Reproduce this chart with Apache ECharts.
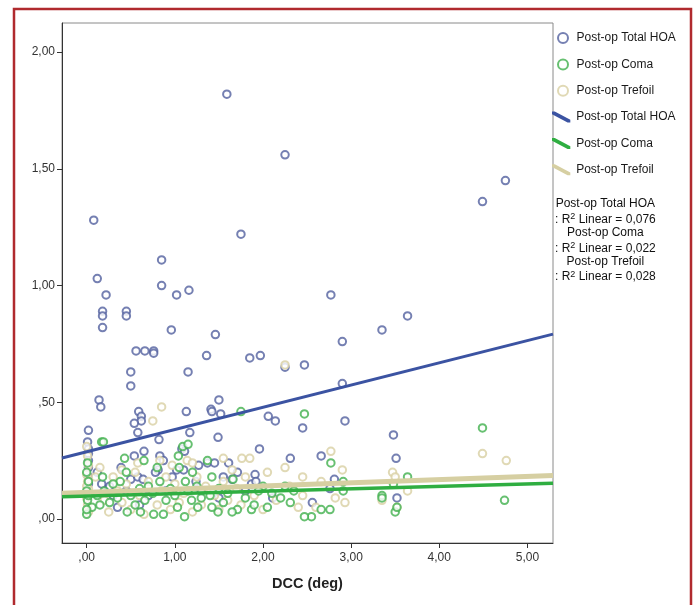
<!DOCTYPE html>
<html>
<head>
<meta charset="utf-8">
<script src="https://cdn.jsdelivr.net/npm/echarts@6/dist/echarts.min.js"></script>
<style>
html,body{margin:0;padding:0;background:#fff;}
#chart{width:698px;height:605px;}
</style>
</head>
<body>
<div id="chart"></div>
<script>
// ---- data ----
const xTickValues = [0, 1, 2, 3, 4, 5];
const xTickLabels = [',00', '1,00', '2,00', '3,00', '4,00', '5,00'];
const yTickValues = [0, 0.5, 1, 1.5, 2];
const yTickLabels = [',00', ',50', '1,00', '1,50', '2,00'];
const seriesNames = ['Post-op Total HOA', 'Post-op Coma', 'Post-op Trefoil'];
const r2Values = ['0,076', '0,022', '0,028'];

const hoaPoints = [
  [1.59,1.82],[2.25,1.56],[1.75,1.22],[4.49,1.36],[4.75,1.45],[0.08,1.28],[0.12,1.03],
  [0.85,1.11],[0.85,1.00],[0.22,0.96],[1.02,0.96],[1.16,0.98],[0.18,0.89],[0.18,0.87],
  [0.45,0.89],[0.45,0.87],[0.18,0.82],[0.96,0.81],[1.46,0.79],[0.56,0.72],[0.66,0.72],
  [0.76,0.72],[0.76,0.71],[1.36,0.70],[1.85,0.69],[1.97,0.70],[2.25,0.65],[2.47,0.66],
  [0.50,0.63],[1.15,0.63],[0.50,0.57],[2.77,0.96],[2.90,0.76],[3.35,0.81],[3.64,0.87],
  [2.90,0.58],[0.14,0.51],[0.16,0.48],[0.59,0.46],[0.62,0.44],[0.62,0.42],[0.54,0.41],
  [0.58,0.37],[1.13,0.46],[1.41,0.47],[1.42,0.46],[1.50,0.51],[1.52,0.45],[2.06,0.44],
  [2.14,0.42],[2.45,0.39],[0.02,0.38],[0.01,0.33],[1.17,0.37],[0.82,0.34],[1.49,0.35],
  [1.96,0.30],[2.31,0.26],[0.54,0.27],[0.65,0.29],[0.83,0.27],[0.87,0.25],[1.08,0.30],
  [1.11,0.29],[1.37,0.24],[1.61,0.24],[0.39,0.22],[0.81,0.21],[0.78,0.20],[1.10,0.21],
  [1.02,0.21],[1.27,0.23],[1.45,0.24],[1.55,0.18],[1.65,0.17],[1.87,0.15],[1.91,0.19],
  [0.50,0.17],[0.58,0.18],[0.64,0.17],[0.25,0.13],[0.97,0.18],[2.11,0.09],[0.02,0.28],
  [0.02,0.25],[0.02,0.22],[1.24,0.16],[2.93,0.42],[3.48,0.36],[2.66,0.27],[3.51,0.26],
  [2.81,0.17],[2.76,0.13],[2.56,0.07],[3.52,0.09],[1.71,0.20],[1.92,0.16],[0.12,0.20],
  [0.17,0.15],[0.26,0.14],[0.02,0.30],[0.02,0.18],[0.02,0.15],[0.30,0.10],[0.45,0.12],
  [0.70,0.10],[0.90,0.12],[1.30,0.12],[1.50,0.09],[0.35,0.05],[0.60,0.06],[1.80,0.12]
];

const comaPoints = [
  [1.75,0.46],[2.47,0.45],[0.17,0.33],[0.19,0.33],[1.09,0.31],[1.15,0.32],[4.49,0.39],
  [2.77,0.24],[3.64,0.18],[4.74,0.08],[3.35,0.10],[3.35,0.09],[3.50,0.03],[3.52,0.05],
  [2.55,0.01],[2.66,0.04],[2.76,0.04],[3.48,0.15],[2.91,0.12],[2.91,0.16],[0.43,0.26],
  [1.04,0.27],[1.37,0.25],[0.38,0.16],[0.18,0.18],[0.83,0.16],[1.12,0.16],[1.42,0.18],
  [1.66,0.17],[2.00,0.14],[2.31,0.07],[2.05,0.05],[1.87,0.04],[1.71,0.04],[1.65,0.03],
  [1.49,0.03],[1.42,0.05],[1.26,0.05],[1.11,0.01],[0.87,0.02],[0.76,0.02],[0.61,0.03],
  [0.46,0.03],[0.26,0.07],[0.00,0.02],[0.06,0.05],[1.03,0.05],[1.19,0.08],[1.40,0.10],
  [2.47,0.01],[0.00,0.04],[0.01,0.08],[0.00,0.12],[0.02,0.16],[0.00,0.20],[0.01,0.24],
  [0.02,0.10],[0.12,0.10],[0.15,0.06],[0.20,0.12],[0.30,0.15],[0.35,0.09],[0.50,0.10],
  [0.55,0.06],[0.60,0.13],[0.66,0.08],[0.70,0.14],[0.75,0.11],[0.90,0.08],[0.95,0.13],
  [1.00,0.10],[1.15,0.12],[1.25,0.14],[1.30,0.09],[1.50,0.13],[1.55,0.07],[1.60,0.11],
  [1.80,0.09],[1.90,0.06],[1.95,0.12],[2.10,0.11],[2.20,0.09],[2.35,0.12],[0.45,0.20],
  [0.80,0.22],[1.20,0.20],[0.65,0.25],[2.25,0.14],[1.05,0.22]
];

const trefoilPoints = [
  [0.85,0.48],[0.75,0.42],[2.25,0.66],[4.49,0.28],[4.76,0.25],[2.77,0.29],[2.90,0.21],
  [3.47,0.20],[3.50,0.18],[3.64,0.12],[2.45,0.18],[2.66,0.16],[2.82,0.09],[2.93,0.07],
  [2.45,0.10],[3.35,0.08],[3.52,0.05],[1.76,0.26],[1.85,0.26],[2.25,0.22],[1.14,0.25],
  [0.58,0.24],[0.83,0.25],[0.97,0.23],[0.00,0.31],[0.01,0.27],[0.02,0.23],[0.00,0.19],
  [0.01,0.16],[0.02,0.13],[0.00,0.09],[0.01,0.06],[0.02,0.03],[0.00,0.14],[0.10,0.18],
  [0.15,0.22],[0.20,0.08],[0.25,0.03],[0.30,0.18],[0.35,0.12],[0.40,0.07],[0.45,0.15],
  [0.50,0.04],[0.55,0.20],[0.60,0.10],[0.65,0.02],[0.70,0.16],[0.80,0.06],[0.85,0.12],
  [0.90,0.18],[0.95,0.04],[1.00,0.15],[1.05,0.07],[1.10,0.11],[1.20,0.03],[1.25,0.18],
  [1.30,0.06],[1.35,0.14],[1.45,0.10],[1.50,0.04],[1.55,0.16],[1.60,0.08],[1.70,0.13],
  [1.75,0.06],[1.80,0.18],[1.90,0.10],[2.00,0.04],[2.05,0.20],[2.15,0.08],[2.30,0.14],
  [2.40,0.05],[1.20,0.24],[0.40,0.21],[1.65,0.21],[2.60,0.05],[1.55,0.26]
];

// fitted lines: end points read at the plot edges
const hoaFit = [[-0.28,0.261],[5.29,0.792]];
const comaFit = [[-0.28,0.095],[5.29,0.153]];
const trefoilFit = [[-0.28,0.110],[5.29,0.186]];

// ---- chart ----
const FONT = '"Liberation Sans", Arial, sans-serif';
const colHOA = '#52609f', colComa = '#41b04e', colTref = '#d8d0a2';
const lineHOA = '#3b53a2', lineComa = '#2fae41', lineTref = '#d6cfa2';

const chart = echarts.init(document.getElementById('chart'), null, {renderer: 'canvas'});

function scatter(name, pts, color, z) {
  return {
    type: 'scatter', name: name, data: pts, symbol: 'emptyCircle', symbolSize: 7.5,
    itemStyle: {color: color, borderColor: color, borderWidth: 1.1}, z: z,
    emphasis: {disabled: true}, silent: true
  };
}
function fit(name, pts, color, width, z) {
  return {
    type: 'line', name: name, data: pts, showSymbol: false, symbol: 'none',
    lineStyle: {color: color, width: width}, itemStyle: {color: color}, z: z,
    emphasis: {disabled: true}, silent: true
  };
}

const lineIcon = 'path://M0,0 L3,0 L20,9 L20,12 L17,12 L0,3 Z';

const r2Lines = [];
seriesNames.forEach((n, i) => {
  r2Lines.push({text: n});
  r2Lines.push({text: ': R{sup|2} Linear = ' + r2Values[i]});
});

const legendText = {fontFamily: FONT, fontSize: 12, color: '#1a1a1a'};

const option = {
  backgroundColor: '#ffffff',
  animation: false,
  grid: {left: 62, top: 23, width: 491, height: 520, show: true, borderColor: '#8a8a8a', borderWidth: 1, containLabel: false},
  xAxis: {
    type: 'value', min: -0.28, max: 5.29,
    name: 'DCC (deg)', nameLocation: 'middle', nameGap: 33,
    nameTextStyle: {fontFamily: FONT, fontSize: 14.5, fontWeight: 'bold', color: '#222'},
    axisLine: {show: true, onZero: false, lineStyle: {color: '#333', width: 1}},
    axisTick: {show: true, length: 5, customValues: xTickValues, lineStyle: {color: '#333'}},
    axisLabel: {customValues: xTickValues, margin: 9, fontFamily: FONT, fontSize: 12, color: '#333',
      formatter: v => xTickLabels[xTickValues.indexOf(Math.round(v * 100) / 100)] || ''},
    splitLine: {show: false}
  },
  yAxis: {
    type: 'value', min: -0.103, max: 2.125,
    axisLine: {show: true, onZero: false, lineStyle: {color: '#333', width: 1}},
    axisTick: {show: true, length: 5, customValues: yTickValues, lineStyle: {color: '#333'}},
    axisLabel: {customValues: yTickValues, margin: 7, fontFamily: FONT, fontSize: 12, color: '#333',
      formatter: v => yTickLabels[yTickValues.indexOf(Math.round(v * 100) / 100)] || ''},
    splitLine: {show: false}
  },
  legend: [
    {
      orient: 'vertical', left: 557, top: 32, padding: 0,
      itemWidth: 17, itemHeight: 10, itemGap: 14.4,
      textStyle: legendText, selectedMode: false,
      data: seriesNames.map(n => ({name: n, icon: 'emptyCircle'}))
    },
    {
      orient: 'vertical', left: 552, top: 111, padding: 0,
      itemWidth: 20, itemHeight: 11, itemGap: 14.4,
      textStyle: legendText, selectedMode: false,
      data: seriesNames.map(n => ({name: n + ' ', icon: lineIcon}))
    }
  ],
  graphic: [
    {type: 'rect', shape: {x: 14, y: 9, width: 677, height: 620}, silent: true,
     style: {fill: 'none', stroke: '#b02a2e', lineWidth: 2.5}, z: 100},
    {type: 'group', left: 555, top: 198, silent: true, children: r2Lines.map((l, i) => ({
      type: 'text', x: 50, y: i * 14.4,
      style: {text: l.text, fontFamily: FONT, fontSize: 12, fill: '#111', align: 'center',
        rich: {sup: {fontSize: 9, fontFamily: FONT, fill: '#111', padding: [0, 0, 5, 0]}}}
    }))}
  ],
  series: [
    scatter(seriesNames[0], hoaPoints, colHOA, 2),
    scatter(seriesNames[1], comaPoints, colComa, 3),
    scatter(seriesNames[2], trefoilPoints, colTref, 2),
    fit(seriesNames[2] + ' ', trefoilFit, lineTref, 5, 5),
    fit(seriesNames[1] + ' ', comaFit, lineComa, 3.5, 6),
    fit(seriesNames[0] + ' ', hoaFit, lineHOA, 3, 7)
  ]
};
chart.setOption(option);
</script>
</body>
</html>
